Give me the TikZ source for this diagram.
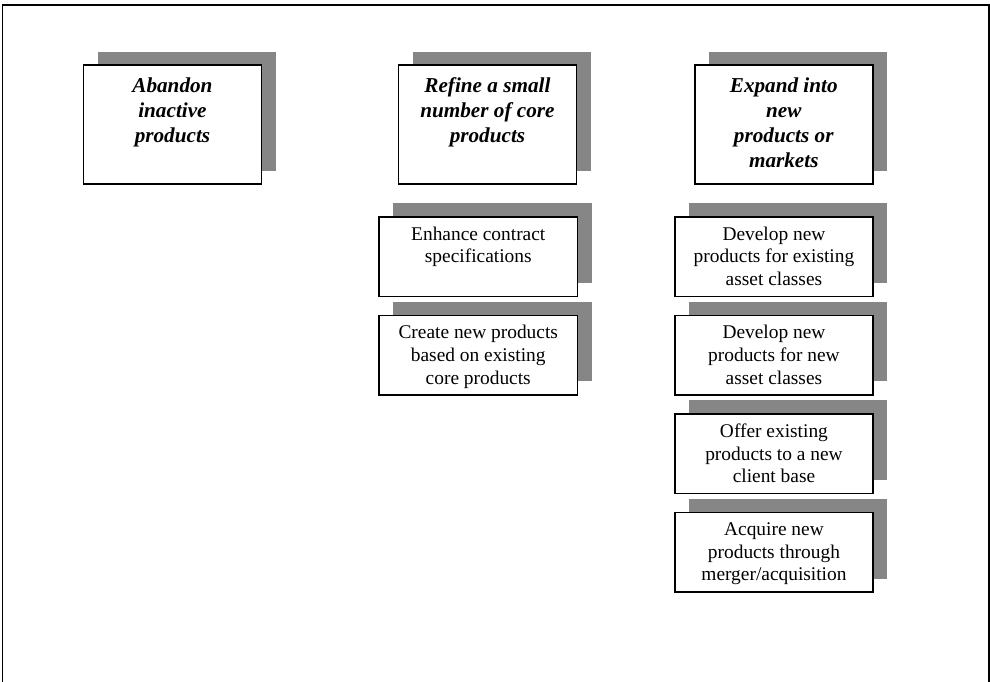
\documentclass[tikz,border=0pt]{standalone}
\usepackage{fontspec}
\setmainfont{Liberation Serif}
\usetikzlibrary{shadows}
\definecolor{shadowgray}{RGB}{134,134,134}
\tikzset{
  boxbase/.style={draw=black, line width=1.5pt, fill=white, inner sep=0pt, anchor=north west,
    drop shadow={shadow xshift=14.3pt, shadow yshift=13.5pt, fill=shadowgray, opacity=1}},
  topbox/.style={boxbase, minimum width=178pt, minimum height=119pt},
  subbox/.style={boxbase, minimum width=198.4pt, minimum height=79.5pt},
  toptext/.style={anchor=north, inner sep=0pt, align=center, yshift=-13.5pt,
    font=\fontsize{21.2}{25}\selectfont\bfseries\itshape},
  subtext/.style={anchor=north, inner sep=0pt, align=center, yshift=-10.7pt,
    font=\fontsize{19.4}{22.6}\selectfont},
  frameline/.style={draw=black, line width=1.6pt}
}
\begin{document}
\begin{tikzpicture}[x=1pt, y={(0pt,-1pt)}]
\useasboundingbox (0,0) rectangle (990,681);
\coordinate (fbl) at (2.5,700);
\coordinate (ftl) at (2.5,5);
\coordinate (ftr) at (989,5);
\coordinate (fbr) at (989,700);
\draw[frameline] (fbl) -- (ftl) -- (ftr) -- (fbr);

% top boxes
\node[topbox] (a) at (82.7,64.3) {};
\node[toptext] (at) at (a.north) {Abandon\\inactive\\products};
\node[topbox] (b) at (397.7,64.3) {};
\node[toptext] (bt) at (b.north) {Refine a small\\number of core\\products};
\node[topbox] (c) at (694,64.3) {};
\node[toptext] (ct) at (c.north) {Expand into\\new\\products or\\markets};

% sub boxes under b
\node[subbox] (b1) at (378.3,216) {};
\node[subtext] (b1t) at (b1.north) {Enhance contract\\specifications};
\node[subbox] (b2) at (378.3,314.6) {};
\node[subtext] (b2t) at (b2.north) {Create new products\\based on existing\\core products};

% sub boxes under c
\node[subbox] (c1) at (674,216) {};
\node[subtext] (c1t) at (c1.north) {Develop new\\products for existing\\asset classes};
\node[subbox] (c2) at (674,314.6) {};
\node[subtext] (c2t) at (c2.north) {Develop new\\products for new\\asset classes};
\node[subbox] (c3) at (674,413.2) {};
\node[subtext] (c3t) at (c3.north) {Offer existing\\products to a new\\client base};
\node[subbox] (c4) at (674,511.8) {};
\node[subtext] (c4t) at (c4.north) {Acquire new\\products through\\merger/acquisition};
\end{tikzpicture}
\end{document}
